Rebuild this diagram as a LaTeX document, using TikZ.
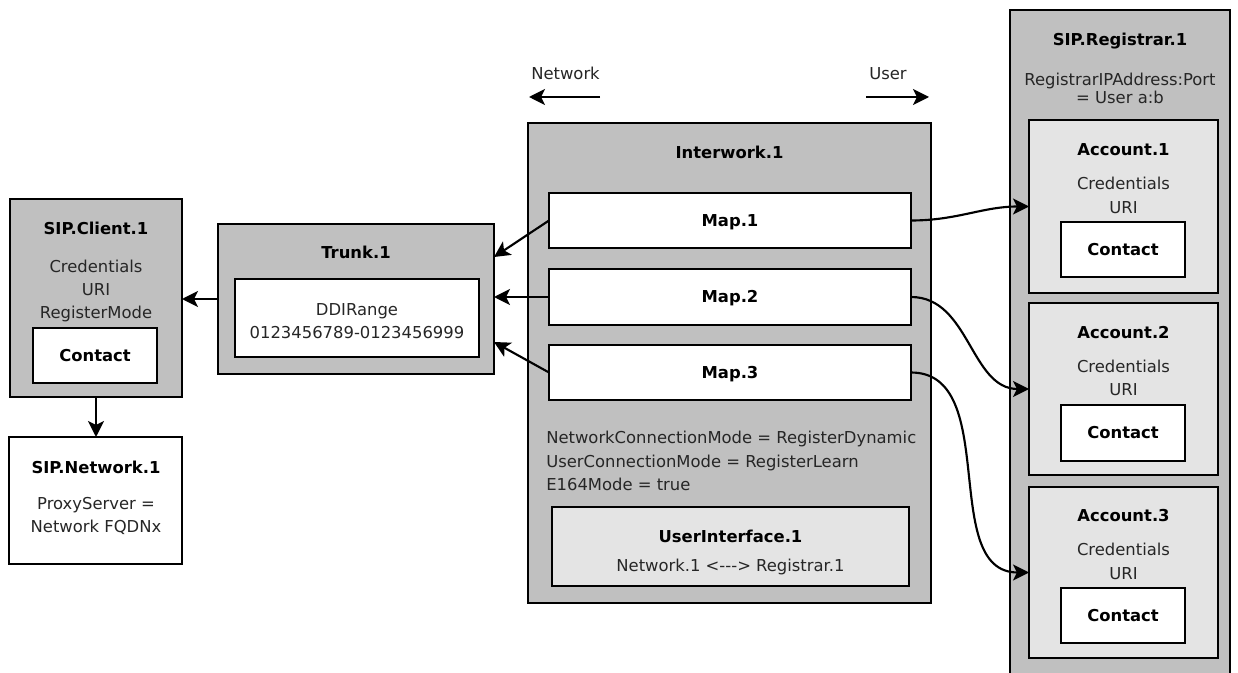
\documentclass[tikz,border=0pt]{standalone}
\usepackage{fontspec}
\setmainfont{DejaVu Sans}
\usetikzlibrary{arrows.meta,fit,calc}
\definecolor{panel}{HTML}{C0C0C0}
\definecolor{subpanel}{HTML}{E4E4E4}
\definecolor{ink}{HTML}{262626}
\newcommand\basefont{\fontsize{12.3pt}{17.6pt}\selectfont}
\tikzset{
  box/.style={draw=black, line width=1.7pt, inner sep=0pt, outer sep=0pt},
  graybox/.style={box, fill=panel},
  lightbox/.style={box, fill=subpanel},
  whitebox/.style={box, fill=white},
  oneline/.style={text height=8.9pt, text depth=0pt, inner sep=0pt},
  title/.style={oneline, font=\basefont\bfseries, text=black},
  body/.style={font=\basefont, text=ink, align=center, inner sep=0pt},
  plain/.style={oneline, font=\basefont, text=ink},
  conn/.style={line width=1.6pt, -{Stealth[length=12pt,width=12pt,inset=3pt]}},
}
\begin{document}
\begin{tikzpicture}[x=0.75pt, y=-0.75pt]
\clip (0,0) rectangle (1238,673);
\fill[white] (0,0) rectangle (1238,673);

% --- SIP client and network (left) ---
\node[graybox, fit={(10,199) (182,397)}] (client) {};
\node[title] (clientT) at (96,229) {SIP.Client.1};
\node[body] (clientB) at (96,291) {Credentials\\URI\\RegisterMode};
\node[whitebox, fit={(33,328) (157,383)}] (clientC) {};
\node[title] (clientCT) at (clientC) {Contact};

\node[whitebox, fit={(9,437) (182,564)}] (network) {};
\node[title] (networkT) at (96,468) {SIP.Network.1};
\node[body] (networkB) at (96,516) {ProxyServer =\\Network FQDNx};

% --- Trunk ---
\node[graybox, fit={(218,224) (494,374)}] (trunk) {};
\node[title] (trunkT) at (356,253) {Trunk.1};
\node[whitebox, fit={(235,279) (479,357)}] (ddi) {};
\node[body] (ddiB) at (357,321) {DDIRange\\0123456789-0123456999};

% --- Interwork ---
\node[graybox, fit={(528,123) (931,603)}] (iw) {};
\node[title] (iwT) at (729.5,153) {Interwork.1};
\node[whitebox, fit={(549,193) (911,248)}] (map1) {};
\node[title] (map1T) at (map1) {Map.1};
\node[whitebox, fit={(549,269) (911,325)}] (map2) {};
\node[title] (map2T) at (map2) {Map.2};
\node[whitebox, fit={(549,345) (911,400)}] (map3) {};
\node[title] (map3T) at (map3) {Map.3};
\node[body, align=left, anchor=west] (iwB) at (546,461)
  {NetworkConnectionMode = RegisterDynamic\\UserConnectionMode = RegisterLearn\\E164Mode = true};
\node[lightbox, fit={(552,507) (909,586)}] (ui) {};
\node[title] (uiT) at (730.5,537) {UserInterface.1};
\node[plain] (uiB) at (730.5,566) {Network.1 <-{}-{}-> Registrar.1};

% --- direction hints ---
\node[plain, anchor=west] (netL) at (531,74) {Network};
\node[plain] (userL) at (888,74) {User};
\coordinate (netA) at (600,97);
\coordinate (netB) at (529,97);
\coordinate (userA) at (866,97);
\coordinate (userB) at (929,97);
\draw[conn] (netA) -- (netB);
\draw[conn] (userA) -- (userB);

% --- Registrar ---
\node[graybox, fit={(1010,10) (1230,720)}] (reg) {};
\node[title] (regT) at (1120,40) {SIP.Registrar.1};
\node[plain] (regA) at (1120,80) {RegistrarIPAddress:Port};
\node[plain] (regB) at (1120,98) {= User a:b};

\node[lightbox, fit={(1029,120) (1218,293)}] (acc1) {};
\node[title] (acc1T) at (1123.5,150) {Account.1};
\node[body] (acc1B) at (1123.5,195.5) {Credentials\\URI};
\node[whitebox, fit={(1061,222) (1185,277)}] (acc1C) {};
\node[title] (acc1CT) at (acc1C) {Contact};

\node[lightbox, fit={(1029,303) (1218,475)}] (acc2) {};
\node[title] (acc2T) at (1123.5,333) {Account.2};
\node[body] (acc2B) at (1123.5,378) {Credentials\\URI};
\node[whitebox, fit={(1061,405) (1185,461)}] (acc2C) {};
\node[title] (acc2CT) at (acc2C) {Contact};

\node[lightbox, fit={(1029,487) (1218,658)}] (acc3) {};
\node[title] (acc3T) at (1123.5,516) {Account.3};
\node[body] (acc3B) at (1123.5,561.5) {Credentials\\URI};
\node[whitebox, fit={(1061,588) (1185,643)}] (acc3C) {};
\node[title] (acc3CT) at (acc3C) {Contact};

% --- connectors ---
\draw[conn] (client.south) -- (client.south |- network.north);
\draw[conn] (trunk.west) -- (trunk.west -| client.east);
\draw[conn] (map1.west) -- ($(trunk.east)+(0,-42)$);
\draw[conn] (map2.west) -- (map2.west -| trunk.east);
\draw[conn] (map3.west) -- ($(trunk.east)+(0,43)$);
\draw[conn] (map1.east) to[out=0, in=180] (acc1.west);
\draw[conn] (map2.east) to[out=0, in=180] (acc2.west);
\draw[conn] (map3.east) to[out=0, in=180] (acc3.west);
\end{tikzpicture}
\end{document}
